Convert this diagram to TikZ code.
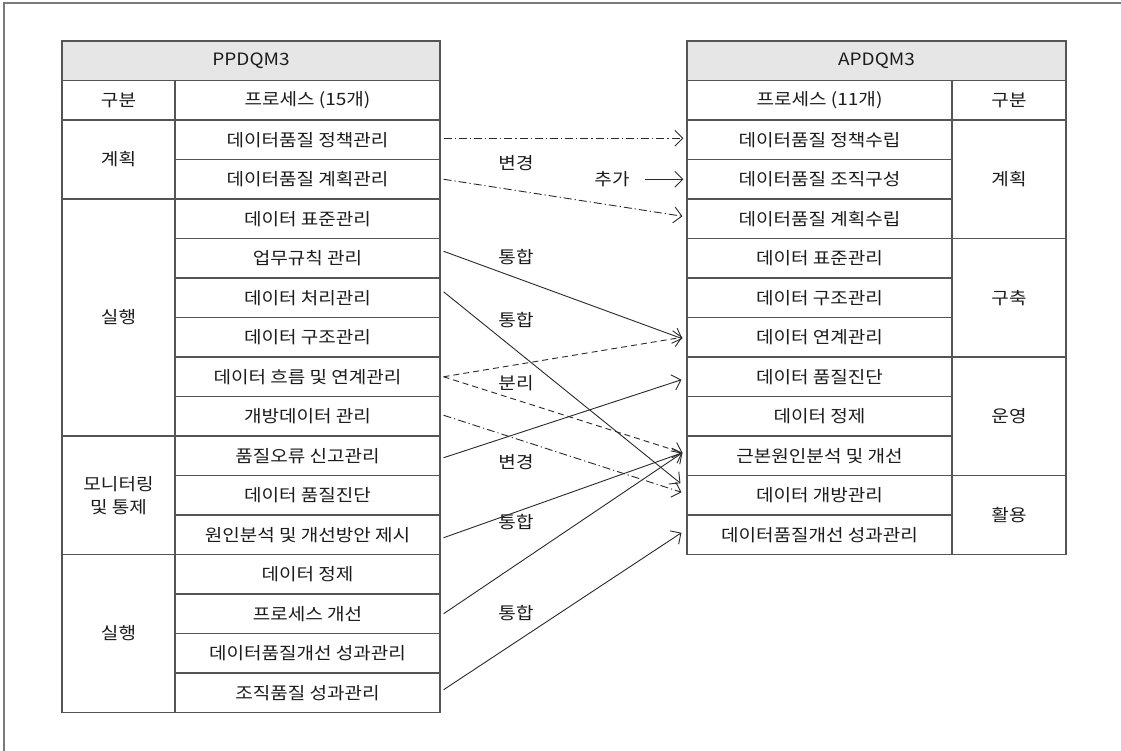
\documentclass[tikz,border=0pt]{standalone}
\usepackage{fontspec}
\setmainfont{Noto Sans CJK KR}[FakeStretch=1.12]
\usetikzlibrary{arrows.meta}
\definecolor{ln}{HTML}{555555}
\definecolor{fr}{HTML}{7A7A7A}
\definecolor{hd}{HTML}{E6E6E6}
\definecolor{txt}{HTML}{1C1C1C}
\definecolor{ar}{HTML}{2A2A2A}
\tikzset{
  cell/.style={draw=ln, line width=1.1pt, minimum height=39.5pt, inner sep=0pt, text=txt, align=center},
  head/.style={cell, fill=hd},
  wide/.style={minimum width=265pt},
  narrowL/.style={minimum width=113pt},
  narrowR/.style={minimum width=114pt},
  lab/.style={text=txt, inner sep=1pt},
  con/.style={draw=ar, line width=0.9pt, -{Straight Barb[length=8pt,width=16pt]}},
  dashdot/.style={dash pattern=on 8pt off 3pt on 1.2pt off 3pt},
  dashedline/.style={dash pattern=on 6pt off 4pt}
}
\begin{document}
\begin{tikzpicture}[x=1pt,y=-1pt,font=\fontsize{17}{23}\selectfont]
\useasboundingbox (0,0) rectangle (1121,751);
\fill[white] (0,0) rectangle (1121,751);
% outer frame
\draw[fr, line width=1.5pt] (1121,3) -- (4,3) -- (4,751);

% ---------- left table ----------
\node[head, minimum width=378pt] (LH) at (251,60.75) {PPDQM3};
\node[cell, narrowL] (LG0) at (118.5,100.25) {구분};
\node[cell, wide] (LP0) at (307.5,100.25) {프로세스 (15개)};
\node[cell, wide] (L1) at (307.5,139.75) {데이터품질 정책관리};
\node[cell, wide] (L2) at (307.5,179.25) {데이터품질 계획관리};
\node[cell, wide] (L3) at (307.5,218.75) {데이터 표준관리};
\node[cell, wide] (L4) at (307.5,258.25) {업무규칙 관리};
\node[cell, wide] (L5) at (307.5,297.75) {데이터 처리관리};
\node[cell, wide] (L6) at (307.5,337.25) {데이터 구조관리};
\node[cell, wide] (L7) at (307.5,376.75) {데이터 흐름 및 연계관리};
\node[cell, wide] (L8) at (307.5,416.25) {개방데이터 관리};
\node[cell, wide] (L9) at (307.5,455.75) {품질오류 신고관리};
\node[cell, wide] (L10) at (307.5,495.25) {데이터 품질진단};
\node[cell, wide] (L11) at (307.5,534.75) {원인분석 및 개선방안 제시};
\node[cell, wide] (L12) at (307.5,574.25) {데이터 정제};
\node[cell, wide] (L13) at (307.5,613.75) {프로세스 개선};
\node[cell, wide] (L14) at (307.5,653.25) {데이터품질개선 성과관리};
\node[cell, wide] (L15) at (307.5,692.75) {조직품질 성과관리};
\node[cell, narrowL, minimum height=79pt] (LG1) at (118.5,159.5) {계획};
\node[cell, narrowL, minimum height=237pt] (LG2) at (118.5,317.5) {실행};
\node[cell, narrowL, minimum height=118.5pt] (LG3) at (118.5,495.25) {모니터링\\및 통제};
\node[cell, narrowL, minimum height=158pt] (LG4) at (118.5,633.5) {실행};

% ---------- right table ----------
\node[head, minimum width=379pt] (RH) at (876.5,60.75) {APDQM3};
\node[cell, wide] (RP0) at (819.5,100.25) {프로세스 (11개)};
\node[cell, narrowR] (RG0) at (1009,100.25) {구분};
\node[cell, wide] (R1) at (819.5,139.75) {데이터품질 정책수립};
\node[cell, wide] (R2) at (819.5,179.25) {데이터품질 조직구성};
\node[cell, wide] (R3) at (819.5,218.75) {데이터품질 계획수립};
\node[cell, wide] (R4) at (819.5,258.25) {데이터 표준관리};
\node[cell, wide] (R5) at (819.5,297.75) {데이터 구조관리};
\node[cell, wide] (R6) at (819.5,337.25) {데이터 연계관리};
\node[cell, wide] (R7) at (819.5,376.75) {데이터 품질진단};
\node[cell, wide] (R8) at (819.5,416.25) {데이터 정제};
\node[cell, wide] (R9) at (819.5,455.75) {근본원인분석 및 개선};
\node[cell, wide] (R10) at (819.5,495.25) {데이터 개방관리};
\node[cell, wide] (R11) at (819.5,534.75) {데이터품질개선 성과관리};
\node[cell, narrowR, minimum height=118.5pt] (RG1) at (1009,179.25) {계획};
\node[cell, narrowR, minimum height=118.5pt] (RG2) at (1009,297.75) {구축};
\node[cell, narrowR, minimum height=118.5pt] (RG3) at (1009,416.25) {운영};
\node[cell, narrowR, minimum height=79pt] (RG4) at (1009,515) {활용};

% ---------- labels ----------
\node[lab] (t1) at (516,163) {변경};
\node[lab] (add) at (612,179.25) {추가};
\node[lab] (t2) at (516,257) {통합};
\node[lab] (t3) at (516,320) {통합};
\node[lab] (t4) at (516,383) {분리};
\node[lab] (t5) at (516,462) {변경};
\node[lab] (t6) at (516,522) {통합};
\node[lab] (t7) at (516,613) {통합};

% ---------- connectors ----------
\draw[con, dashdot] ([xshift=3pt,yshift=1.5pt]L1.east) -- ([xshift=-3pt,yshift=1.5pt]R1.west);
\draw[con, dashdot] ([xshift=3pt]L2.east) -- ([xshift=-4pt,yshift=2.5pt]R3.west);
\draw[con] ([xshift=14pt]add.east) -- ([xshift=-3pt]R2.west);
\draw[con] ([xshift=3pt,yshift=7pt]L4.east) -- ([xshift=-4pt,yshift=-1.5pt]R6.west);
\draw[con] ([xshift=3pt,yshift=6pt]L5.east) -- ([xshift=-6pt,yshift=12pt]R10.west);
\draw[con, dashedline] ([xshift=3pt]L7.east) -- ([xshift=-4pt]R6.west);
\draw[con, dashedline] ([xshift=3pt]L7.east) -- ([xshift=-4pt,yshift=3pt]R9.west);
\draw[con, dashdot] ([xshift=3pt,yshift=1pt]L8.east) -- ([xshift=-5pt,yshift=3pt]R10.west);
\draw[con] ([xshift=3pt,yshift=-2pt]L9.east) -- ([xshift=-5pt,yshift=-3pt]R7.west);
\draw[con] ([xshift=3pt,yshift=-3pt]L11.east) -- ([xshift=-4pt,yshift=3pt]R9.west);
\draw[con] ([xshift=3pt]L13.east) -- ([xshift=-4pt,yshift=3pt]R9.west);
\draw[con] ([xshift=3pt,yshift=3pt]L15.east) -- ([xshift=-5pt,yshift=2pt]R11.west);
\end{tikzpicture}
\end{document}
